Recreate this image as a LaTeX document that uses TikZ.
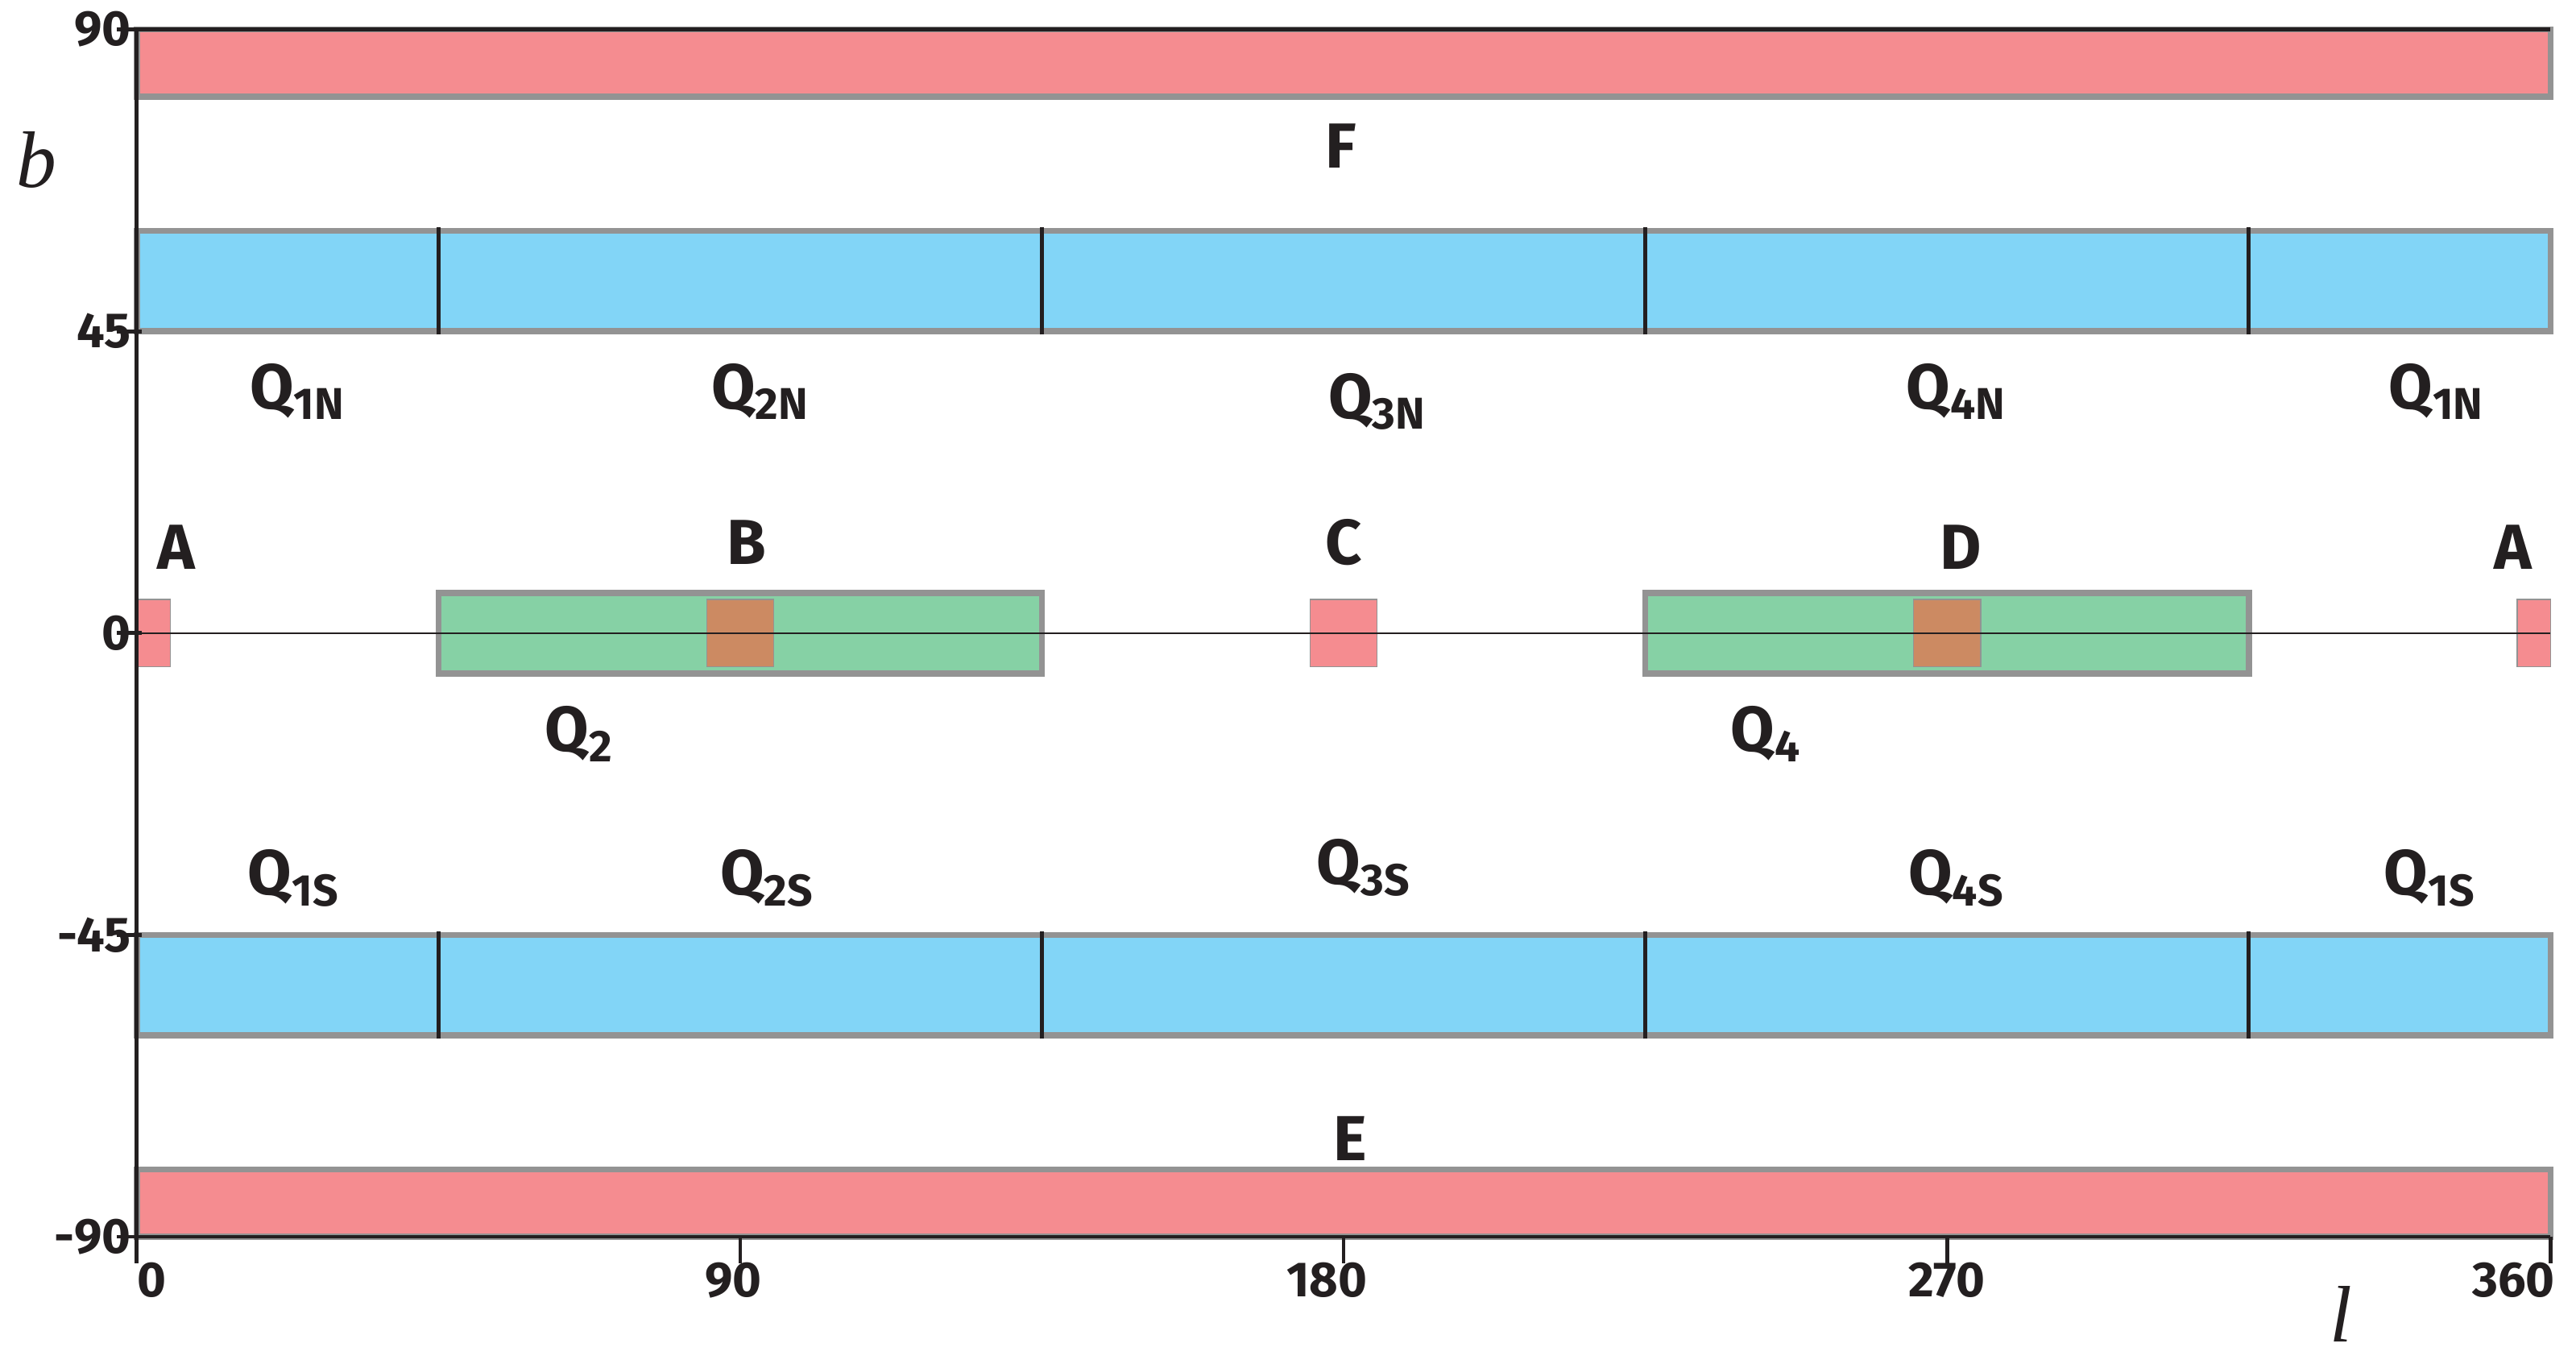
\documentclass[tikz,border=0pt]{standalone}
\usepackage{fontspec}
\setmainfont{Fira Sans}
\newfontfamily\titlefont{Liberation Serif}
\usetikzlibrary{positioning}
\definecolor{bandpink}{HTML}{F58C90}
\definecolor{bandblue}{HTML}{82D5F7}
\definecolor{bandgreen}{HTML}{86D1A5}
\definecolor{bandbrown}{HTML}{CC8A62}
\definecolor{bandgray}{HTML}{939393}
\definecolor{axisblack}{HTML}{231F20}
\tikzset{
	band/.style={draw=bandgray, line width=2.6pt},
	patch/.style={draw=bandgray, line width=0.5pt},
	region/.style={font=\bfseries\fontsize{27}{30}\selectfont, text=axisblack, inner sep=0pt},
	tick label/.style={font=\bfseries\fontsize{21}{22}\selectfont, text=axisblack, inner sep=0pt},
	axis title/.style={font=\titlefont\itshape\fontsize{34}{36}\selectfont, text=axisblack, inner sep=0pt},
}
\begin{document}
\begin{tikzpicture}[x=0.1cm, y=0.1cm]
        \useasboundingbox (-20.4,-108.3) rectangle (363.8,94.4);
        % bands
        \draw[band, fill=bandpink] (0,80) rectangle (360,90);
        \draw[band, fill=bandpink] (0,-90) rectangle (360,-80);
        \draw[band, fill=bandblue] (0,45) rectangle (360,60);
        \draw[band, fill=bandblue] (0,-60) rectangle (360,-45);
        \foreach \l in {45,135,225,315} {
                \draw[axisblack, line width=1.8pt] (\l,44.5) -- (\l,60.5);
                \draw[axisblack, line width=1.8pt] (\l,-60.5) -- (\l,-44.5);
            }
        \draw[band, fill=bandgreen] (45,-6) rectangle (135,6);
        \draw[band, fill=bandgreen] (225,-6) rectangle (315,6);
        \draw[patch, fill=bandbrown] (85,-5) rectangle (95,5);
        \draw[patch, fill=bandbrown] (265,-5) rectangle (275,5);
        \draw[patch, fill=bandpink] (175,-5) rectangle (185,5);
        \draw[patch, fill=bandpink] (0,-5) rectangle (5,5);
        \draw[patch, fill=bandpink] (355,-5) rectangle (360,5);
        \draw[axisblack, line width=0.5pt] (0,0) -- (360,0);
        % axes
        \draw[axisblack, line width=1.6pt] (0,-90) -- (0,90) -- (360,90);
        \draw[axisblack, line width=1.6pt] (0,-90) -- (360,-90);
        \foreach \b in {90,45,0,-45,-90} {
                \draw[axisblack, line width=1.6pt] (-3,\b) -- (0.8,\b);
                \node[tick label, anchor=east] (yt\b) at (-0.8,\b) {\b};
            }
        \foreach \l in {0,90,180,270,360} {
                \draw[axisblack, line width=1.6pt] (\l,-90) -- (\l,-94);
            }
        \node[tick label] (xt0) at (2.2,-96.5) {0};
        \node[tick label] (xt90) at (89,-96.5) {90};
        \node[tick label] (xt180) at (177.5,-96.5) {180};
        \node[tick label] (xt270) at (270,-96.5) {270};
        \node[tick label] (xt360) at (354.5,-96.5) {360};
        \node[axis title] (btitle) at (-15,70.6) {b};
        \node[axis title] (ltitle) at (328.8,-101.5) {l};
        % region labels
        \node[region] (F) at (179.6,72.6) {F};
        \node[region] (E) at (181,-75.4) {E};
        \node[region] (A1) at (5.9,12.8) {A};
        \node[region] (B) at (91,13.5) {B};
        \node[region] (C) at (180,13.5) {C};
        \node[region] (D) at (272,12.8) {D};
        \node[region] (A2) at (354.4,12.8) {A};
        \node[region] (Q2) at (66,-15) {Q$_\mathbf{2}$};
        \node[region] (Q4) at (243,-15) {Q$_\mathbf{4}$};
        \node[region] (Q1N) at (24,36) {Q$_\mathbf{1N}$};
        \node[region] (Q2N) at (93,36) {Q$_\mathbf{2N}$};
        \node[region] (Q3N) at (185,34.5) {Q$_\mathbf{3N}$};
        \node[region] (Q4N) at (271.4,36) {Q$_\mathbf{4N}$};
        \node[region] (Q1Nb) at (343,36) {Q$_\mathbf{1N}$};
        \node[region] (Q1S) at (23.4,-36.5) {Q$_\mathbf{1S}$};
        \node[region] (Q2S) at (94,-36.5) {Q$_\mathbf{2S}$};
        \node[region] (Q3S) at (183,-35) {Q$_\mathbf{3S}$};
        \node[region] (Q4S) at (271.4,-36.5) {Q$_\mathbf{4S}$};
        \node[region] (Q1Sb) at (342,-36.5) {Q$_\mathbf{1S}$};
    \end{tikzpicture}
\end{document}
